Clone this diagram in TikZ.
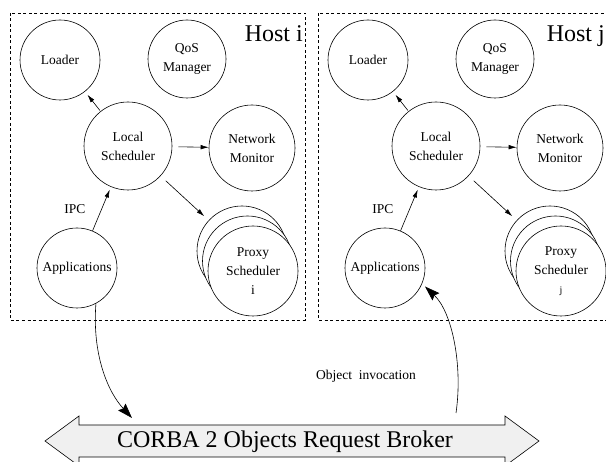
\documentclass[tikz,border=0pt]{standalone}
\usepackage{fontspec}
\setmainfont{Liberation Serif}
\usetikzlibrary{arrows.meta}

\tikzset{
	proc/.style={draw, circle, fill=white, line width=0.6pt, inner sep=0pt,
		align=center, font=\fontsize{13.5}{19}\selectfont},
	hostbox/.style={line width=0.6pt, dash pattern=on 3pt off 2.5pt},
	bigtext/.style={font=\fontsize{24}{24}\selectfont, inner sep=0pt},
	smalltext/.style={font=\fontsize{13.5}{16}\selectfont, inner sep=0pt},
	link/.style={-{Latex[length=8pt,width=4.5pt]}, line width=0.6pt},
	call/.style={-{Stealth[length=15pt,width=10pt,inset=2pt]}, line width=0.6pt},
}

\begin{document}
\begin{tikzpicture}[x=1pt,y=-1pt]
	\clip (0,0) rectangle (606,462);
	
	% the two hosts share one layout
	\foreach \sx/\h/\pid/\hx in {0/i/i/303, 308/j/{\fontsize{10}{12}\selectfont j}/297} {
		\begin{scope}[xshift=\sx]
			\draw[hostbox] (10,13) rectangle (305,320);
			\node[bigtext, anchor=base east] (host\h) at (\hx,42) {Host \h};
			
			\node[proc, minimum size=80pt] (loader\h) at (60,60) {Loader};
			\node[proc, minimum size=78pt] (qos\h) at (187,59) {QoS\\Manager};
			\node[proc, minimum size=88pt] (local\h) at (128,146) {Local\\Scheduler};
			\node[proc, minimum size=86pt] (network\h) at (252,148) {Network\\Monitor};
			\node[proc, minimum size=80pt] (app\h) at (77,268) {Applications};
			
			% stacked proxy schedulers
			\node[proc, minimum size=90pt] (proxyb\h) at (242,251) {};
			\node[proc, minimum size=90pt] (proxym\h) at (247.5,261) {};
			\node[proc, minimum size=90pt] (proxy\h) at (253,271) {Proxy\\Scheduler\\\pid};
			
			\draw[link, shorten <=1pt, shorten >=4pt] (local\h) -- (loader\h);
			\draw[link, shorten <=6pt] (local\h) -- (network\h);
			\draw[link, shorten <=7pt, shorten >=6pt] (local\h) -- (proxyb\h);
			\draw[link, shorten >=3pt] (app\h) -- (local\h);
			\node[smalltext] (ipc\h) at (75,209) {IPC};
		\end{scope}
	}
	
	% object request broker
	\filldraw[fill=gray!12, line width=0.6pt] (45,441) -- (79,416) -- (79,425)
		-- (505,425) -- (505,416) -- (539,441) -- (505,466) -- (505,457)
		-- (79,457) -- (79,466) -- cycle;
	\node[bigtext, anchor=base] (orb) at (285,448) {CORBA 2 Objects Request Broker};
	
	\coordinate (orbin) at (132,418);
	\coordinate (orbout) at (456,413);
	
	\draw[call] (appi.-62) .. controls (92,355) and (108,392) .. (orbin);
	\draw[call, shorten >=4pt] (orbout) .. controls (463,365) and (452,312) .. (appj.-23);
	\node[smalltext, anchor=base] (invoke) at (366,380) {Object\ \ invocation};
	
\end{tikzpicture}
\end{document}
